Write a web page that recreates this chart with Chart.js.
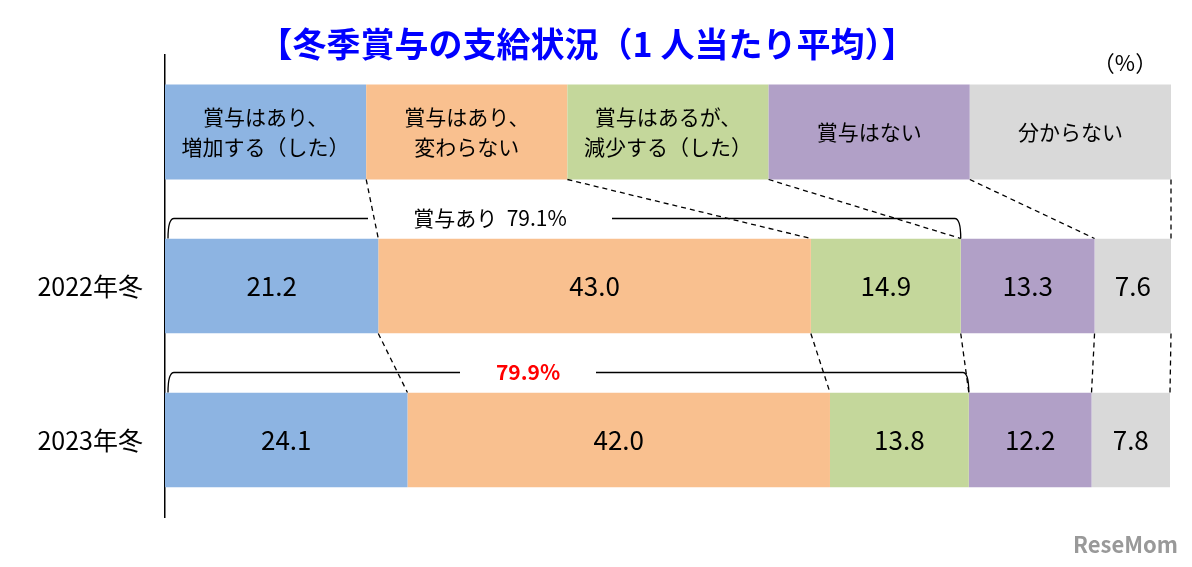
<!DOCTYPE html>
<html><head><meta charset="utf-8">
<script src="https://cdn.jsdelivr.net/npm/chart.js@4"></script>
<style>body{margin:0;background:#fff}#wrap{width:1192px;height:567px}</style>
</head><body><div id="wrap"><canvas id="c"></canvas></div>
<script>
const rows = ['', '2022年冬', '2023年冬'];
const categories = ['賞与はあり、\n増加する（した）', '賞与はあり、\n変わらない', '賞与はあるが、\n減少する（した）', '賞与はない', '分からない'];
const v2022 = [21.2, 43.0, 14.9, 13.3, 7.6];
const v2023 = [24.1, 42.0, 13.8, 12.2, 7.8];
const total2022 = '79.1%';
const total2023 = '79.9%';
const colors = ['#8DB4E2', '#F9C08F', '#C4D79B', '#B1A0C7', '#D9D9D9'];
const FONT = '"Noto Sans CJK JP", "Noto Sans", sans-serif';

const datasets = categories.map((c, i) => ({
    label: c,
    data: [null, v2022[i], v2023[i]],
    backgroundColor: colors[i],
    borderWidth: 0,
    categoryPercentage: 1,
    barPercentage: 0.615
}));

const overlay = {
    id: 'overlay',
    afterDatasetsDraw(chart) {
        const ctx = chart.ctx;
        const xs = chart.scales.x, ys = chart.scales.y;
        const barH = 95;
        const hy = ys.getPixelForValue(0);
        const y22 = ys.getPixelForValue(1), y23 = ys.getPixelForValue(2);
        ctx.save();
        // header boxes
        categories.forEach((c, i) => {
            const x0 = xs.getPixelForValue(i * 20), x1 = xs.getPixelForValue((i + 1) * 20);
            ctx.fillStyle = colors[i];
            ctx.fillRect(x0, hy - barH / 2, x1 - x0, barH);
            ctx.fillStyle = '#000';
            ctx.font = '21px ' + FONT;
            ctx.textAlign = 'center';
            ctx.textBaseline = 'middle';
            const lines = c.split('\n');
            lines.forEach((l, k) => ctx.fillText(l, (x0 + x1) / 2, hy + (k - (lines.length - 1) / 2) * 30));
        });
        // value labels
        ctx.font = '26px ' + FONT;
        chart.data.datasets.forEach((ds, i) => {
            const meta = chart.getDatasetMeta(i);
            [1, 2].forEach(j => {
                const el = meta.data[j];
                ctx.fillText(ds.data[j].toFixed(1), (el.x + el.base) / 2, el.y);
            });
        });
        // dashed connectors
        ctx.strokeStyle = '#000';
        ctx.lineWidth = 1.3;
        ctx.setLineDash([5, 4]);
        let c22 = 0, c23 = 0;
        for (let i = 0; i < 5; i++) {
            c22 += v2022[i]; c23 += v2023[i];
            ctx.beginPath();
            ctx.moveTo(xs.getPixelForValue((i + 1) * 20), hy + barH / 2);
            ctx.lineTo(xs.getPixelForValue(c22), y22 - barH / 2);
            ctx.moveTo(xs.getPixelForValue(c22), y22 + barH / 2);
            ctx.lineTo(xs.getPixelForValue(c23), y23 - barH / 2);
            ctx.stroke();
        }
        ctx.setLineDash([]);
        // brackets
        function bracket(yb, endVal, text, tx, color, bold, gap) {
            const x0 = xs.getPixelForValue(0) + 3, x1 = xs.getPixelForValue(endVal);
            const top = yb - barH / 2 - 20;
            ctx.strokeStyle = '#000';
            ctx.lineWidth = 1.3;
            ctx.beginPath();
            ctx.moveTo(x0, top + 20); ctx.quadraticCurveTo(x0, top, x0 + 6, top); ctx.lineTo(tx - gap, top);
            ctx.moveTo(tx + gap, top); ctx.lineTo(x1 - 6, top); ctx.quadraticCurveTo(x1, top, x1, top + 20);
            ctx.stroke();
            ctx.fillStyle = color;
            ctx.font = (bold ? 'bold ' : '') + '21px ' + FONT;
            ctx.fillText(text, tx, top);
        }
        bracket(y22, v2022[0] + v2022[1] + v2022[2], '賞与あり  ' + total2022, 490, '#000', false, 122);
        bracket(y23, v2023[0] + v2023[1] + v2023[2], total2023, 528, '#FF0000', true, 68);
        // title etc
        ctx.fillStyle = '#0000FF';
        ctx.font = 'bold 34px ' + FONT;
        ctx.fillText('【冬季賞与の支給状況（1 人当たり平均）】', 587, 44);
        ctx.fillStyle = '#000';
        ctx.font = '22px ' + FONT;
        ctx.fillText('（%）', 1125, 63);
        ctx.fillStyle = '#999';
        ctx.font = 'bold 22px ' + FONT;
        ctx.textAlign = 'right';
        ctx.fillText('ReseMom', 1178, 545);
        ctx.restore();
    }
};

new Chart(document.getElementById('c'), {
    type: 'bar',
    data: { labels: rows, datasets: datasets },
    options: {
        indexAxis: 'y',
        responsive: true,
        maintainAspectRatio: false,
        animation: false,
        layout: { padding: { top: 55, right: 21, bottom: 50, left: 0 } },
        plugins: { legend: { display: false }, tooltip: { enabled: false } },
        scales: {
            x: { stacked: true, min: 0, max: 100, display: false },
            y: {
                stacked: true,
                grid: { display: false },
                border: { color: '#000', width: 1.5 },
                ticks: { color: '#000', font: { size: 25, family: FONT }, padding: 14 },
                afterFit(scale) { scale.width = 165; }
            }
        }
    },
    plugins: [overlay]
});
</script></body></html>
